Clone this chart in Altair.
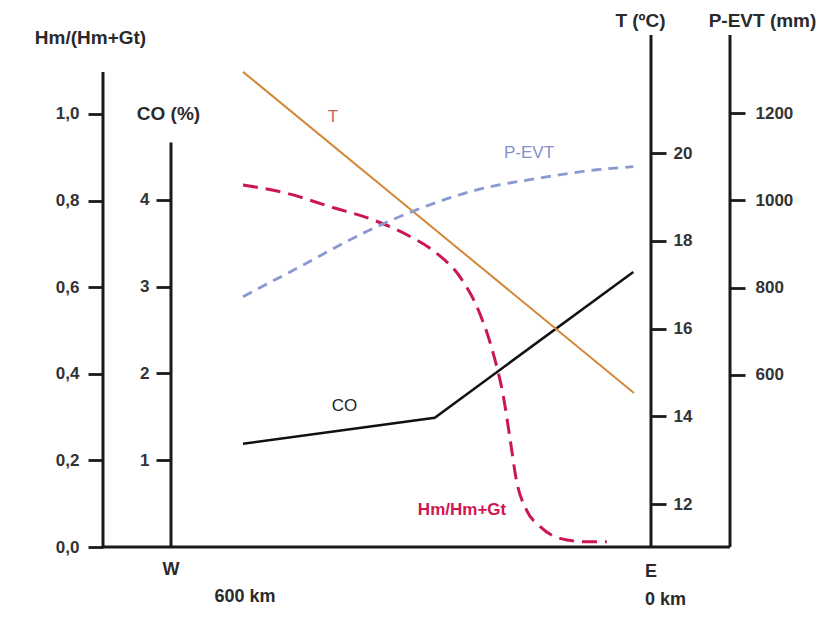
import altair as alt
import pandas as pd

# ---------------- data ----------------
# distance from E (km), x axis reversed (W on the left)
hm_km = [600, 536, 472, 408, 359, 315, 281, 252, 232, 217, 207, 198, 183, 163, 134, 95, 65]
hm_vals = [0.836, 0.817, 0.786, 0.755, 0.721, 0.678, 0.624, 0.540, 0.447, 0.347, 0.247,
           0.155, 0.085, 0.047, 0.020, 0.012, 0.012]

co_km = [600, 318, 26]
co_vals = [1.19, 1.49, 3.17]

t_km = [600, 25]
t_vals = [21.85, 14.53]

p_km = [600, 516, 428, 345, 256, 168, 80, 26]
p_vals = [779, 848, 921, 978, 1024, 1050, 1070, 1077]

hm_ticks = [0.0, 0.2, 0.4, 0.6, 0.8, 1.0]
co_ticks = [1, 2, 3, 4]
t_ticks = [12, 14, 16, 18, 20]
p_ticks = [600, 800, 1000, 1200]

# scale domains
x_dom = [-116.2, 805.9]
hm_dom = [0, 1.1824]
co_dom = [0, 5.9]
t_dom = [11.02, 22.69]
p_dom = [205, 1379]

FONT = "Liberation Sans"
W, H = 627, 512

xs = alt.Scale(domain=x_dom, reverse=True)


def X(field="km"):
    return alt.X(f"{field}:Q", scale=xs, axis=None)


def axis_common(**kw):
    base = dict(domain=False, grid=False, tickSize=15, tickWidth=2.8, tickColor="#1a1a1a",
                labelFont=FONT, labelFontSize=17, labelFontWeight="bold", labelColor="#333333",
                titleFont=FONT, titleFontSize=19, titleFontWeight="bold", titleColor="#2a2a2a",
                titleAngle=0, titleAlign="center", titleBaseline="middle")
    base.update(kw)
    return alt.Axis(**base)


hm_ax = axis_common(orient="left", values=hm_ticks, labelPadding=9,
                    labelExpr="replace(format(datum.value, '.1f'), '.', ',')",
                    title="Hm/(Hm+Gt)", titleX=-13, titleY=2)
co_ax = axis_common(orient="left", offset=-68, values=co_ticks, labelPadding=7,
                    format="d", title="CO (%)", titleX=-3, titleY=78)
t_ax = axis_common(orient="right", offset=-79, values=t_ticks, labelPadding=7,
                   format="d", title="T (ºC)", titleX=-11, titleY=-15)
p_ax = axis_common(orient="right", offset=0, values=p_ticks, labelPadding=10,
                   format="d", title="P-EVT (mm)", titleX=32, titleY=-15)

# ---------------- Hm layer ----------------
hm_scale = alt.Scale(domain=hm_dom)


def YH(field):
    return alt.Y(f"{field}:Q", scale=hm_scale, axis=hm_ax)


hm_df = pd.DataFrame({"km": hm_km, "v": hm_vals})
hm_line = alt.Chart(hm_df).mark_line(
    color="#cc1650", strokeWidth=3, strokeDash=[15, 8], interpolate="monotone"
).encode(x=X(), y=YH("v"))
hm_axis_df = pd.DataFrame({"km": [x_dom[1]], "y0": [0.0], "y1": [1.097]})
hm_rule = alt.Chart(hm_axis_df).mark_rule(color="#1a1a1a", strokeWidth=3).encode(
    x=X(), y=YH("y0"), y2="y1:Q")
base_df = pd.DataFrame({"k0": [x_dom[1]], "k1": [x_dom[0]], "v": [0.0]})
base_rule = alt.Chart(base_df).mark_rule(color="#1a1a1a", strokeWidth=3).encode(
    x=X("k0"), x2="k1:Q", y=YH("v"))
hm_lab_df = pd.DataFrame({"km": [277.9], "v": [0.0855], "t": ["Hm/Hm+Gt"]})
hm_lab = alt.Chart(hm_lab_df).mark_text(
    font=FONT, fontSize=17, fontWeight="bold", color="#d0154f", baseline="middle"
).encode(x=X(), y=YH("v"), text="t:N")

bottom_lab_df = pd.DataFrame({
    "km": [705.9, 597, 0.0],
    "v": [-0.053, -0.115, -0.058],
    "t": ["W", "600 km", "E"],
})
bottom_lab = alt.Chart(bottom_lab_df).mark_text(
    font=FONT, fontSize=18, fontWeight="bold", color="#2a2a2a", baseline="middle", align="center"
).encode(x=X(), y=YH("v"), text="t:N")
bottom_lab2_df = pd.DataFrame({"km": [8.8], "v": [-0.122], "t": ["0 km"]})
bottom_lab2 = alt.Chart(bottom_lab2_df).mark_text(
    font=FONT, fontSize=18, fontWeight="bold", color="#2a2a2a", baseline="middle", align="left"
).encode(x=X(), y=YH("v"), text="t:N")

hm_layer = alt.layer(hm_line, hm_rule, base_rule, hm_lab, bottom_lab, bottom_lab2)

# ---------------- CO layer ----------------
co_scale = alt.Scale(domain=co_dom)


def YC(field):
    return alt.Y(f"{field}:Q", scale=co_scale, axis=co_ax)


co_df = pd.DataFrame({"km": co_km, "v": co_vals})
co_line = alt.Chart(co_df).mark_line(color="#111111", strokeWidth=2.5).encode(x=X(), y=YC("v"))
co_axis_df = pd.DataFrame({"km": [705.9], "y0": [0.0], "y1": [4.66]})
co_rule = alt.Chart(co_axis_df).mark_rule(color="#1a1a1a", strokeWidth=3).encode(
    x=X(), y=YC("y0"), y2="y1:Q")
co_lab_df = pd.DataFrame({"km": [450.7], "v": [1.625], "t": ["CO"]})
co_lab = alt.Chart(co_lab_df).mark_text(
    font=FONT, fontSize=17, color="#222222", baseline="middle"
).encode(x=X(), y=YC("v"), text="t:N")
co_layer = alt.layer(co_line, co_rule, co_lab)

# ---------------- T layer ----------------
t_scale = alt.Scale(domain=t_dom, zero=False)


def YT(field):
    return alt.Y(f"{field}:Q", scale=t_scale, axis=t_ax)


t_df = pd.DataFrame({"km": t_km, "v": t_vals})
t_line = alt.Chart(t_df).mark_line(color="#d4873a", strokeWidth=2).encode(x=X(), y=YT("v"))
t_axis_df = pd.DataFrame({"km": [0.0], "y0": [t_dom[0]], "y1": [t_dom[1]]})
t_rule = alt.Chart(t_axis_df).mark_rule(color="#1a1a1a", strokeWidth=3).encode(
    x=X(), y=YT("y0"), y2="y1:Q")
t_lab_df = pd.DataFrame({"km": [467.6], "v": [20.82], "t": ["T"]})
t_lab = alt.Chart(t_lab_df).mark_text(
    font=FONT, fontSize=17, color="#c0645a", baseline="middle"
).encode(x=X(), y=YT("v"), text="t:N")
t_layer = alt.layer(t_line, t_rule, t_lab)

# ---------------- P-EVT layer ----------------
p_scale = alt.Scale(domain=p_dom, zero=False)


def YP(field):
    return alt.Y(f"{field}:Q", scale=p_scale, axis=p_ax)


p_df = pd.DataFrame({"km": p_km, "v": p_vals})
p_line = alt.Chart(p_df).mark_line(
    color="#8a9ad0", strokeWidth=2.8, strokeDash=[10, 7], interpolate="monotone"
).encode(x=X(), y=YP("v"))
p_axis_df = pd.DataFrame({"km": [x_dom[0]], "y0": [p_dom[0]], "y1": [p_dom[1]]})
p_rule = alt.Chart(p_axis_df).mark_rule(color="#1a1a1a", strokeWidth=3).encode(
    x=X(), y=YP("y0"), y2="y1:Q")
p_lab_df = pd.DataFrame({"km": [179.4], "v": [1108], "t": ["P-EVT"]})
p_lab = alt.Chart(p_lab_df).mark_text(
    font=FONT, fontSize=17, color="#8590cc", baseline="middle"
).encode(x=X(), y=YP("v"), text="t:N")
p_layer = alt.layer(p_line, p_rule, p_lab)

chart = alt.layer(hm_layer, co_layer, t_layer, p_layer).resolve_scale(
    y="independent"
).resolve_axis(
    y="independent"
).properties(
    width=W, height=H,
    autosize=alt.AutoSizeParams(type="none"),
    padding={"left": 103, "top": 35, "right": 106, "bottom": 83},
    background="#ffffff",
).configure_view(stroke=None)

chart.save("out.html", embed_options={"renderer": "svg", "actions": False})
